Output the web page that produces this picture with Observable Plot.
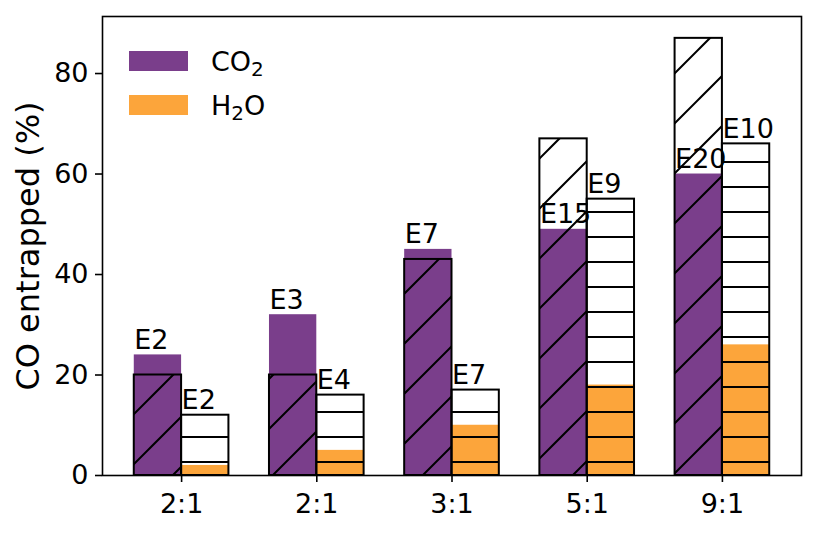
<!DOCTYPE html>
<html>
<head>
<meta charset="utf-8">
<script src="https://cdn.jsdelivr.net/npm/d3@7"></script>
<script src="https://cdn.jsdelivr.net/npm/@observablehq/plot@0.6"></script>
<style>
  html, body { margin: 0; padding: 0; background: #fff; }
  #chart svg { display: block; }
</style>
</head>
<body>
<div id="chart"></div>
<script>
// Solvent ratio groups along the x axis
const ratios = ["2:1", "2:1", "3:1", "5:1", "9:1"];
// CO entrapped (%) — solid bars
const co2Filled = [24, 32, 45, 49, 60];
const h2oFilled = [2, 5, 10, 18, 26];
// CO entrapped (%) — hatched outline bars
const co2Hatched = [20, 20, 43, 67, 87];
const h2oHatched = [12, 16, 17, 55, 66];
// Experiment labels above the bars
const co2Labels = ["E2", "E3", "E7", "E15", "E20"];
const h2oLabels = ["E2", "E4", "E7", "E9", "E10"];
const yTicks = [0, 20, 40, 60, 80];
const yLabel = "CO entrapped (%)";

const barWidth = 0.35;
const purple = "#7a3e8b";
const orange = "#fca53b";
const font = "DejaVu Sans";
const fs = 27;
const labelFs = 32;

const rows = ratios.map((ratio, i) => ({
  i, ratio,
  co2Filled: co2Filled[i], h2oFilled: h2oFilled[i],
  co2Hatched: co2Hatched[i], h2oHatched: h2oHatched[i],
  co2Label: co2Labels[i], h2oLabel: h2oLabels[i]
}));

const left = d => d.i - barWidth;
const mid = d => d.i;
const right = d => d.i + barWidth;

const chart = Plot.plot({
  width: 824,
  height: 534,
  marginLeft: 102,
  marginRight: 23,
  marginTop: 16,
  marginBottom: 59,
  style: { fontFamily: font, fontSize: fs + "px", color: "black", background: "white" },
  x: { domain: [-0.585, 4.585] },
  y: { domain: [0, 91.35] },
  marks: [
    Plot.rectY(rows, { x1: left, x2: mid, y: "co2Filled", fill: purple }),
    Plot.rectY(rows, { x1: mid, x2: right, y: "h2oFilled", fill: orange }),
    Plot.text(rows, { x: left, y: "co2Filled", text: "co2Label", textAnchor: "start", lineAnchor: "bottom", dy: -6, fontSize: fs, fill: "black" }),
    Plot.text(rows, { x: mid, y: "h2oHatched", text: "h2oLabel", textAnchor: "start", lineAnchor: "bottom", dy: -6, fontSize: fs, fill: "black" }),
    Plot.rectY(rows, { x1: left, x2: mid, y: "co2Hatched", fill: "url(#hatch-diag)", stroke: "black", strokeWidth: 2 }),
    Plot.rectY(rows, { x1: mid, x2: right, y: "h2oHatched", fill: "url(#hatch-horiz)", stroke: "black", strokeWidth: 2 }),
    Plot.frame({ stroke: "black", strokeWidth: 1.6 }),
    Plot.axisX({ ticks: [0, 1, 2, 3, 4], tickFormat: i => ratios[i], tickSize: 7, tickPadding: 11, fontSize: fs, strokeWidth: 1.6, label: null }),
    Plot.axisY({ ticks: yTicks, tickSize: 7, tickPadding: 7, fontSize: fs, strokeWidth: 1.6, label: null }),
    Plot.text([yLabel], { frameAnchor: "left", dx: -64, rotate: -90, textAnchor: "middle", lineAnchor: "bottom", fontSize: labelFs, fill: "black" })
  ]
});

const svg = d3.select(chart);

// Hatch fills for the outline bars
const defs = svg.insert("defs", ":first-child");
defs.append("pattern")
  .attr("id", "hatch-diag")
  .attr("patternUnits", "userSpaceOnUse")
  .attr("width", 50).attr("height", 50)
  .append("path")
  .attr("d", "M-10,58L58,-10M-10,108L108,-10M-10,8L8,-10")
  .attr("stroke", "black").attr("stroke-width", 2).attr("fill", "none");
defs.append("pattern")
  .attr("id", "hatch-horiz")
  .attr("patternUnits", "userSpaceOnUse")
  .attr("width", 20).attr("height", 25)
  .append("rect")
  .attr("x", 0).attr("y", 11).attr("width", 20).attr("height", 2)
  .attr("fill", "black");

// Legend for the solid bar colours
const legendItems = [
  { main: "CO", sub: "2", tail: "", color: purple },
  { main: "H", sub: "2", tail: "O", color: orange }
];
const legend = svg.append("g")
  .attr("font-family", font)
  .attr("font-size", fs)
  .attr("text-anchor", "start")
  .attr("fill", "black");
legendItems.forEach((item, k) => {
  const top = 51 + k * 44;
  legend.append("rect")
    .attr("x", 129).attr("y", top)
    .attr("width", 59).attr("height", 20)
    .attr("fill", item.color);
  const t = legend.append("text")
    .attr("x", 211).attr("y", top + 20);
  t.append("tspan").text(item.main);
  t.append("tspan").attr("font-size", 20).attr("dy", 5).text(item.sub);
  if (item.tail) t.append("tspan").attr("dy", -5).text(item.tail);
});

document.getElementById("chart").appendChild(chart);
</script>
</body>
</html>
